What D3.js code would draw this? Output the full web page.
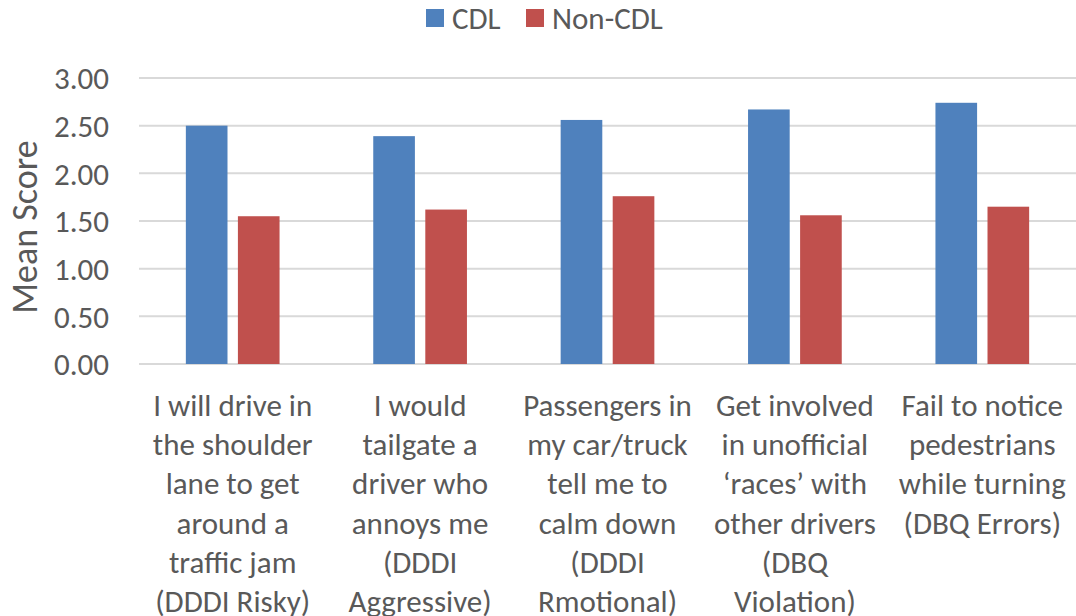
<!DOCTYPE html>
<html>
<head>
<meta charset="utf-8">
<script src="https://cdn.jsdelivr.net/npm/d3@7"></script>
<style>
  html, body { margin: 0; padding: 0; background: #fff; }
  svg { display: block; }
  text { font-family: Calibri, Carlito, Lato, "Open Sans", sans-serif; fill: #595959; }
</style>
</head>
<body>
<svg id="chart" width="1076" height="616"></svg>
<script>
const categories = ["c1", "c2", "c3", "c4", "c5"];
const categoryLabels = [
  ["I will drive in", "the shoulder", "lane to get", "around a", "traffic jam", "(DDDI Risky)"],
  ["I would", "tailgate a", "driver who", "annoys me", "(DDDI", "Aggressive)"],
  ["Passengers in", "my car/truck", "tell me to", "calm down", "(DDDI", "Rmotional)"],
  ["Get involved", "in unofficial", "\u2018races\u2019 with", "other drivers", "(DBQ", "Violation)"],
  ["Fail to notice", "pedestrians", "while turning", "(DBQ Errors)"]
];
const seriesNames = ["CDL", "Non-CDL"];
const cdlValues = [2.50, 2.39, 2.56, 2.67, 2.74];
const nonCdlValues = [1.55, 1.62, 1.76, 1.56, 1.65];
const yTicks = [0, 0.5, 1.0, 1.5, 2.0, 2.5, 3.0];
const colors = ["#4F81BD", "#C0504D"];

const seriesValues = [cdlValues, nonCdlValues];
const svg = d3.select("#chart");
const FS = 31;

const x0 = d3.scaleBand().domain(categories).range([139, 1076]);
const bw = x0.bandwidth();
const x1 = d3.scaleBand().domain(seriesNames).range([bw * 0.25, bw * 0.75]).paddingInner(0.2);
const y = d3.scaleLinear().domain([0, 3]).range([364, 78]);

// gridlines
svg.append("g").selectAll("line").data(yTicks).join("line")
  .attr("x1", 139).attr("x2", 1076)
  .attr("y1", d => y(d)).attr("y2", d => y(d))
  .attr("stroke", "#D9D9D9").attr("stroke-width", 2);

// y axis labels
const yAxis = d3.axisLeft(y).tickValues(yTicks).tickFormat(d3.format(".2f")).tickSize(0).tickPadding(0);
const yg = svg.append("g").attr("transform", "translate(109,0)").call(yAxis);
yg.select(".domain").remove();
yg.attr("font-family", null).attr("font-size", null);
yg.selectAll("text").attr("font-size", FS).attr("fill", "#595959").attr("dy", "0.35em");

// bars
const groups = svg.append("g").selectAll("g").data(categories).join("g")
  .attr("transform", d => `translate(${x0(d)},0)`);
groups.selectAll("rect").data((d, i) => seriesNames.map((s, j) => ({ s, j, v: seriesValues[j][i] })))
  .join("rect")
  .attr("x", d => x1(d.s))
  .attr("width", x1.bandwidth())
  .attr("y", d => y(d.v))
  .attr("height", d => y(0) - y(d.v))
  .attr("fill", d => colors[d.j]);

// x labels
const lab = svg.append("g").selectAll("text").data(categories).join("text")
  .attr("x", d => x0(d) + bw / 2)
  .attr("y", 405)
  .attr("text-anchor", "middle")
  .attr("font-size", FS);
lab.selectAll("tspan").data((d, i) => categoryLabels[i]).join("tspan")
  .attr("x", function () { return d3.select(this.parentNode).attr("x"); })
  .attr("dy", (d, k) => k === 0 ? "0.35em" : "39.3")
  .text(d => d);

// y title
svg.append("text")
  .attr("transform", "translate(37,227) rotate(-90)")
  .attr("text-anchor", "middle")
  .attr("font-size", 36)
  .text("Mean Score");

// legend
const legend = [
  { name: "CDL", sx: 426, tx: 452 },
  { name: "Non-CDL", sx: 526, tx: 552 }
];
const lg = svg.append("g");
lg.selectAll("rect").data(legend).join("rect")
  .attr("x", d => d.sx).attr("y", 9).attr("width", 18).attr("height", 18)
  .attr("fill", (d, i) => colors[i]);
lg.selectAll("text").data(legend).join("text")
  .attr("x", d => d.tx).attr("y", 18).attr("dy", "0.35em")
  .attr("font-size", FS)
  .text(d => d.name);
</script>
</body>
</html>
